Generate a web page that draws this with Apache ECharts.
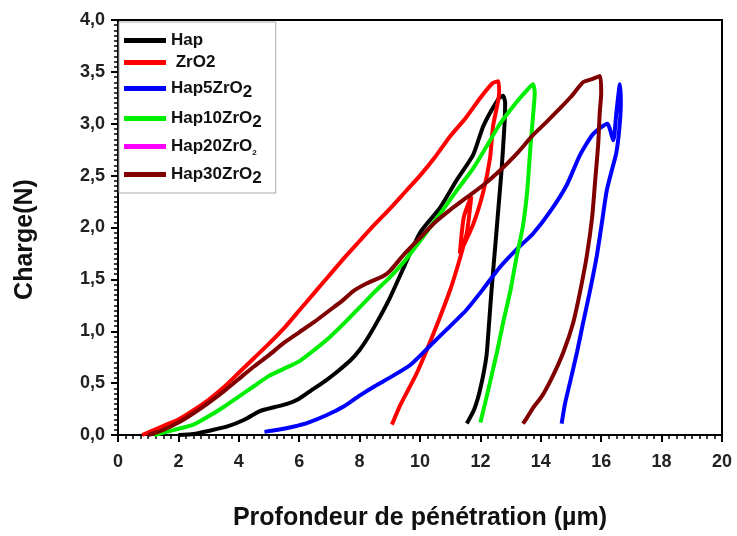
<!DOCTYPE html>
<html>
<head>
<meta charset="utf-8">
<script src="https://cdn.jsdelivr.net/npm/echarts@6/dist/echarts.min.js"></script>
<style>
html,body{margin:0;padding:0;background:#fff;}
#chart{width:737px;height:536px;}
</style>
</head>
<body>
<div id="chart"></div>
<script>
// ---- Data (x: penetration depth µm, y: load N) ----
var seriesNames = ['Hap', 'ZrO2', 'Hap5ZrO2', 'Hap10ZrO2', 'Hap20ZrO2', 'Hap30ZrO2'];

var hapData = [
  [2.0,0],[2.5,0.01],[3.0,0.04],[3.6,0.08],[4.2,0.15],[4.7,0.23],[5.2,0.27],[5.6,0.3],
  [6.0,0.35],[6.4,0.43],[6.9,0.53],[7.3,0.62],[7.7,0.72],[8.0,0.82],[8.3,0.95],[8.6,1.1],
  [9.0,1.32],[9.5,1.64],[10.0,1.95],[10.66,2.19],[11.2,2.45],[11.76,2.7],[12.1,2.98],
  [12.6,3.24],[12.75,3.27],[12.82,3.2],[12.8,3.0],[12.7,2.55],[12.6,2.2],[12.5,1.85],
  [12.37,1.4],[12.28,1.05],[12.2,0.76],[12.0,0.45],[11.8,0.25],[11.55,0.11]
];
var zro2Data = [
  [0.8,0],[1.2,0.05],[1.6,0.1],[2.0,0.15],[2.5,0.24],[3.0,0.34],[3.5,0.46],[4.0,0.6],
  [4.5,0.74],[5.0,0.88],[5.5,1.03],[6.0,1.2],[6.5,1.37],[7.0,1.54],[7.5,1.71],[8.0,1.87],
  [8.5,2.03],[9.0,2.18],[9.5,2.34],[10.0,2.5],[10.5,2.68],[11.0,2.88],[11.5,3.05],
  [12.0,3.25],[12.4,3.39],[12.6,3.41],[12.62,3.3],[12.42,2.98],[12.32,2.67],[12.1,2.35],
  [11.76,2.03],[11.32,1.75],[11.45,2.1],[11.7,2.3],[11.55,1.95],[11.3,1.68],[11.0,1.4],
  [10.45,0.98],[9.9,0.6],[9.35,0.29],[9.07,0.1]
];
var hap5Data = [
  [4.85,0.03],[5.3,0.05],[5.8,0.08],[6.3,0.12],[6.9,0.19],[7.5,0.28],[8.0,0.38],[8.5,0.47],
  [9.1,0.57],[9.7,0.68],[10.4,0.88],[11.0,1.05],[11.55,1.21],[12.1,1.41],[12.65,1.62],
  [13.2,1.79],[13.74,1.94],[14.3,2.15],[14.86,2.41],[15.3,2.7],[15.73,2.9],[16.2,3.0],
  [16.4,2.84],[16.5,3.1],[16.62,3.38],[16.65,3.2],[16.6,2.95],[16.5,2.72],[16.35,2.55],
  [16.18,2.35],[16.0,2.0],[15.85,1.72],[15.6,1.35],[15.4,1.08],[15.2,0.8],[14.97,0.51],
  [14.8,0.3],[14.69,0.11]
];
var hap10Data = [
  [1.2,0],[1.6,0.03],[2.0,0.06],[2.5,0.1],[3.0,0.18],[3.5,0.27],[4.0,0.37],[4.5,0.47],
  [5.0,0.57],[5.5,0.64],[6.0,0.71],[6.5,0.82],[7.0,0.94],[7.5,1.08],[8.0,1.23],[8.5,1.38],
  [9.0,1.52],[9.5,1.68],[10.0,1.87],[10.66,2.13],[11.2,2.35],[11.76,2.57],[12.2,2.78],
  [12.65,3.0],[13.2,3.21],[13.5,3.31],[13.74,3.38],[13.8,3.3],[13.75,3.1],[13.65,2.75],
  [13.55,2.35],[13.4,2.0],[13.2,1.72],[13.0,1.4],[12.75,1.08],[12.55,0.8],[12.32,0.51],
  [12.15,0.3],[12.0,0.12]
];
var hap20Data = [];
var hap30Data = [
  [1.0,0],[1.5,0.05],[2.0,0.12],[2.5,0.21],[3.0,0.31],[3.5,0.42],[4.0,0.54],[4.5,0.66],
  [5.0,0.77],[5.5,0.89],[6.0,0.99],[6.5,1.09],[7.0,1.2],[7.45,1.3],[7.8,1.39],[8.23,1.46],
  [8.77,1.53],[9.0,1.58],[9.5,1.75],[10.0,1.9],[10.5,2.05],[11.0,2.17],[11.55,2.29],
  [12.1,2.41],[12.65,2.55],[13.2,2.71],[13.74,2.89],[14.2,3.02],[14.64,3.15],[15.0,3.26],
  [15.4,3.4],[15.7,3.43],[15.96,3.46],[16.0,3.3],[15.95,3.1],[15.9,2.8],[15.8,2.45],
  [15.7,2.1],[15.52,1.72],[15.3,1.38],[15.07,1.08],[14.75,0.8],[14.4,0.57],[14.05,0.38],
  [13.74,0.26],[13.55,0.17],[13.41,0.11]
];
var seriesData = [hapData, zro2Data, hap5Data, hap10Data, hap20Data, hap30Data];
var seriesColors = ['#000000', '#ff0000', '#0000ff', '#00ee00', '#ff00ff', '#800000'];

var xTicks = {min: 0, max: 20, interval: 2};
var yTicks = {min: 0, max: 4, interval: 0.5};

var legendLabels = {
  'Hap': '{t|Hap}',
  'ZrO2': '{t| ZrO2}',
  'Hap5ZrO2': '{u|Hap5ZrO}{s|2}',
  'Hap10ZrO2': '{u|Hap10ZrO}{s|2}',
  'Hap20ZrO2': '{u|Hap20ZrO}{ss|2}',
  'Hap30ZrO2': '{u|Hap30ZrO}{s|2}'
};

var FONT = '"Liberation Sans", Arial, sans-serif';

var chart = echarts.init(document.getElementById('chart'), null, {renderer: 'canvas'});
var series = seriesNames.map(function (n, i) {
  return {
    name: n,
    type: 'line',
    data: seriesData[i],
    showSymbol: false,
    symbol: 'none',
    lineStyle: {width: 4, color: seriesColors[i]},
    itemStyle: {color: seriesColors[i]},
    smooth: 0.2,
    z: 2
  };
});

chart.setOption({
  animation: false,
  backgroundColor: '#ffffff',
  grid: {left: 118, right: 15, top: 20, bottom: 96, show: true, borderColor: '#000', borderWidth: 2, backgroundColor: 'transparent'},
  legend: {
    orient: 'vertical',
    left: 119, top: 22,
    padding: [10, 14, 6, 5],
    itemGap: 5,
    itemWidth: 42, itemHeight: 5,
    icon: 'rect',
    borderColor: '#aaaaaa', borderWidth: 1,
    backgroundColor: '#ffffff',
    data: seriesNames,
    formatter: function (n) { return legendLabels[n]; },
    textStyle: {
      color: '#111',
      rich: {
        t: {fontFamily: FONT, fontWeight: 'bold', fontSize: 17, color: '#111', lineHeight: 17},
        u: {fontFamily: FONT, fontWeight: 'bold', fontSize: 17, color: '#111', lineHeight: 21},
        s: {fontFamily: FONT, fontWeight: 'bold', fontSize: 17, color: '#111', lineHeight: 17, padding: [8, 0, 0, 0]},
        ss: {fontFamily: FONT, fontWeight: 'bold', fontSize: 8, color: '#111', lineHeight: 8, padding: [13, 0, 0, 0]}
      }
    }
  },
  xAxis: {
    type: 'value',
    min: xTicks.min, max: xTicks.max, interval: xTicks.interval,
    name: 'Profondeur de pénétration (µm)',
    nameLocation: 'middle', nameGap: 71,
    nameTextStyle: {fontFamily: FONT, fontWeight: 'bold', fontSize: 25, color: '#111'},
    axisLine: {show: true, lineStyle: {color: '#000', width: 2}},
    axisTick: {show: true, length: 7, lineStyle: {color: '#000', width: 2}},
    minorTick: {show: true, splitNumber: 8, length: 4, lineStyle: {color: '#000', width: 1.5}},
    splitLine: {show: false},
    axisLabel: {fontFamily: FONT, fontWeight: 'bold', fontSize: 18, color: '#222', margin: 18}
  },
  yAxis: {
    type: 'value',
    min: yTicks.min, max: yTicks.max, interval: yTicks.interval,
    name: 'Charge(N)',
    nameLocation: 'middle', nameGap: 80, nameRotate: 90,
    nameTextStyle: {fontFamily: FONT, fontWeight: 'bold', fontSize: 25, color: '#111', padding: [0, 24, 0, 0]},
    axisLine: {show: true, lineStyle: {color: '#000', width: 2}},
    axisTick: {show: true, length: 7, lineStyle: {color: '#000', width: 2}},
    minorTick: {show: true, splitNumber: 10, length: 4, lineStyle: {color: '#000', width: 1.5}},
    splitLine: {show: false},
    axisLabel: {
      fontFamily: FONT, fontWeight: 'bold', fontSize: 18, color: '#222', margin: 13,
      formatter: function (v) { return v.toFixed(1).replace('.', ','); }
    }
  },
  series: series
});
</script>
</body>
</html>
